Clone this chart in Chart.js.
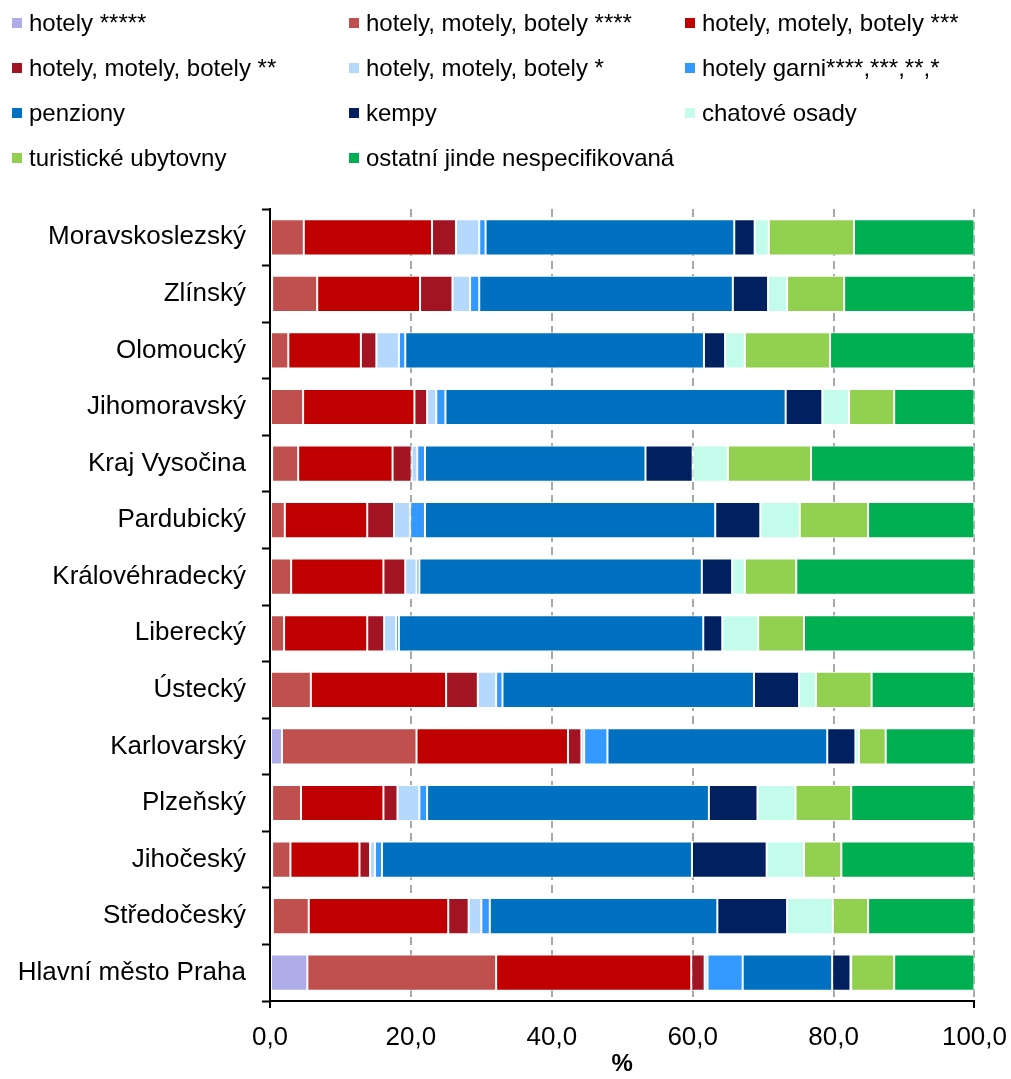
<!DOCTYPE html>
<html>
<head>
<meta charset="utf-8">
<script src="https://cdn.jsdelivr.net/npm/chart.js@4.4.1/dist/chart.umd.min.js"></script>
<style>
    body { margin: 0; background: #fff; font-family: "Liberation Sans", Arial, sans-serif; overflow: hidden; }
    #wrap { position: relative; width: 1011px; height: 1079px; overflow: hidden; }
    #legend {
        position: absolute; left: 12px; top: 0;
        display: grid; grid-template-columns: 337px 336px auto;
        grid-auto-rows: 45px;
    }
    .item { display: flex; align-items: center; font-size: 24px; color: #000; white-space: nowrap; }
    .box { width: 10px; height: 10px; margin-right: 7px; flex: none; }
</style>
</head>
<body>
<div id="wrap">
    <canvas id="chart_canvas" width="1021" height="1079"></canvas>
    <div id="legend"></div>
</div>
<script>
// regions, top to bottom
const regions = ['Moravskoslezský', 'Zlínský', 'Olomoucký', 'Jihomoravský', 'Kraj Vysočina',
    'Pardubický', 'Královéhradecký', 'Liberecký', 'Ústecký', 'Karlovarský', 'Plzeňský',
    'Jihočeský', 'Středočeský', 'Hlavní město Praha'];

const series_names = ['hotely *****', 'hotely, motely, botely ****', 'hotely, motely, botely ***',
    'hotely, motely, botely **', 'hotely, motely, botely *', 'hotely garni****,***,**,*',
    'penziony', 'kempy', 'chatové osady', 'turistické ubytovny', 'ostatní jinde nespecifikovaná'];

const series_colors = ['#afade8', '#c0504d', '#c00000', '#a21422', '#b5d9fd', '#3399ff',
    '#0070c0', '#002060', '#c4fcec', '#92d050', '#00b050'];

// shares in %, one array per series, same order as regions
const hotels_5 = [0, 0.3, 0, 0, 0.3, 0, 0, 0, 0, 1.7, 0.3, 0.3, 0.4, 5.3];
const hotels_4 = [4.8, 6.4, 2.6, 4.7, 3.7, 2.1, 3.0, 2.0, 5.8, 19.1, 4.1, 2.6, 5.1, 26.8];
const hotels_3 = [18.2, 14.6, 10.3, 15.8, 13.4, 11.7, 13.1, 11.8, 19.2, 21.5, 11.7, 9.8, 19.8, 27.7];
const hotels_2 = [3.4, 4.6, 2.2, 1.8, 2.7, 3.8, 3.1, 2.4, 4.5, 1.9, 2.0, 1.5, 2.9, 1.9];
const hotels_1 = [3.3, 2.5, 3.2, 1.3, 0.8, 2.3, 1.6, 1.7, 2.6, 0.4, 3.1, 0.7, 1.8, 0.4];
const hotels_garni = [0.9, 1.3, 0.9, 1.3, 1.1, 2.1, 0.4, 0.4, 0.9, 3.3, 1.1, 1.0, 1.2, 5.0];
const penziony = [35.3, 36.0, 42.4, 48.3, 31.3, 41.2, 40.1, 43.2, 35.7, 31.2, 40.0, 44.0, 32.3, 12.7];
const kempy = [2.9, 5.0, 3.0, 5.2, 6.7, 6.4, 4.3, 2.7, 6.4, 4.0, 6.9, 10.6, 9.9, 2.6];
const chatove_osady = [2.0, 2.7, 2.8, 3.8, 5.0, 5.6, 1.8, 5.1, 2.4, 0.5, 5.4, 5.3, 6.5, 0.1];
const ubytovny = [12.1, 8.1, 12.1, 6.4, 11.8, 9.7, 7.3, 6.5, 7.9, 3.8, 7.9, 5.3, 5.0, 6.1];
const ostatni = [17.1, 18.5, 20.5, 11.4, 23.2, 15.1, 25.3, 24.2, 14.6, 12.6, 17.5, 18.9, 15.1, 11.4];

const x_ticks = [0, 20, 40, 60, 80, 100];

const series_values = [hotels_5, hotels_4, hotels_3, hotels_2, hotels_1, hotels_garni,
    penziony, kempy, chatove_osady, ubytovny, ostatni];

const font_family = '"Liberation Sans", Arial, sans-serif';

// html legend, three columns
let legend_html = '';
for (let i = 0; i < series_names.length; i++) {
    legend_html += '<div class="item"><span class="box" style="background:' + series_colors[i] +
        '"></span>' + series_names[i] + '</div>';
}
document.getElementById('legend').innerHTML = legend_html;

let datasets = [];
for (let i = 0; i < series_names.length; i++) {
    datasets.push({
        label: series_names[i],
        data: series_values[i],
        backgroundColor: series_colors[i],
        borderColor: '#ffffff',
        borderWidth: 1,
        borderSkipped: false,
        categoryPercentage: 1.0,
        barPercentage: 0.64
    });
}

const ctx = document.getElementById('chart_canvas').getContext('2d');
new Chart(ctx, {
    type: 'bar',
    data: { labels: regions, datasets: datasets },
    options: {
        indexAxis: 'y',
        responsive: false,
        animation: false,
        layout: { padding: { top: 209, right: 0, bottom: 0, left: 0 } },
        plugins: {
            legend: { display: false },
            tooltip: { enabled: false }
        },
        scales: {
            x: {
                stacked: true,
                min: 0,
                max: 100,
                afterBuildTicks: function (scale) {
                    scale.ticks = x_ticks.map(v => ({ value: v }));
                },
                afterFit: function (scale) { scale.height = 78; },
                grid: {
                    color: '#a8a8a8',
                    lineWidth: 2,
                    tickLength: 7,
                    tickColor: function (c) {
                        return (c.tick && (c.tick.value === 0 || c.tick.value === 100)) ? '#000' : 'rgba(0,0,0,0)';
                    },
                    tickWidth: 2
                },
                border: { display: true, color: '#000', width: 2, dash: [8, 5] },
                ticks: {
                    color: '#000',
                    padding: 14,
                    maxRotation: 0,
                    font: { family: font_family, size: 26 },
                    callback: function (value) { return value.toFixed(1).replace('.', ','); }
                },
                title: {
                    display: true,
                    text: '%',
                    color: '#000',
                    padding: 0,
                    font: { family: font_family, size: 24, weight: 'bold' }
                }
            },
            y: {
                stacked: true,
                afterFit: function (scale) { scale.width = 270; },
                grid: {
                    offset: true,
                    drawOnChartArea: false,
                    color: '#000',
                    tickLength: 8,
                    tickWidth: 2
                },
                border: { display: true, color: '#000', width: 2 },
                ticks: {
                    color: '#000',
                    padding: 16,
                    font: { family: font_family, size: 26 }
                }
            }
        }
    }
});
</script>
</body>
</html>
